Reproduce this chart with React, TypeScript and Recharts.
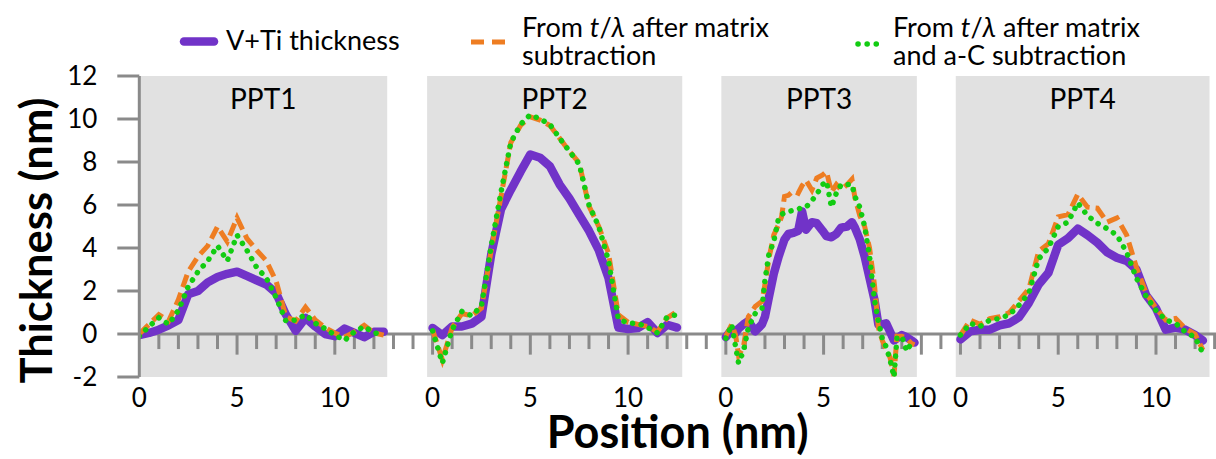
import React from 'react';
import { LineChart, Line, XAxis, YAxis, ReferenceArea, ReferenceLine, Legend, Label } from 'recharts';

const FONT = 'Lato, "Open Sans", sans-serif';
const PURPLE = '#7133c8';
const ORANGE = '#ee7d22';
const GREEN = '#12cc12';
const AXIS = '#8a8a8a';
const PANEL_BG = '#e1e1e1';

// Panels: name, where local 0 sits on the shared position axis, and the shaded extent (local nm)
const panelNames = ['PPT1', 'PPT2', 'PPT3', 'PPT4'];
const panelOffsets = [0, 15, 30, 42];
const panelStarts = [0, -0.28, -0.23, -0.24];
const panelEnds = [12.68, 12.77, 9.77, 12.74];
const localTickLabels = [0, 5, 10];
const yTicks = [-2, 0, 2, 4, 6, 8, 10, 12];

const seriesNames = ['V+Ti thickness', 'From t/λ after matrix subtraction', 'From t/λ after matrix and a-C subtraction'];

// PPT1
const p1Pos = [0, 0.5, 1, 1.5, 2, 2.5, 3, 3.5, 4, 4.5, 5, 5.5, 6, 6.5, 7, 7.5, 8, 8.5, 9, 9.5, 10, 10.5, 11, 11.5, 12, 12.5];
const p1Thickness = [-0.05, 0.05, 0.2, 0.4, 0.65, 1.85, 2.0, 2.4, 2.65, 2.8, 2.9, 2.7, 2.5, 2.3, 1.9, 0.9, 0.15, 0.75, 0.35, 0.0, -0.1, 0.25, 0.05, -0.15, 0.1, 0.1];
const p1Matrix = [0, 0.45, 0.9, 0.6, 1.6, 2.9, 3.6, 4.1, 5.0, 4.3, 5.4, 4.45, 3.9, 3.4, 2.45, 0.8, 0.6, 1.25, 0.65, 0.3, 0.05, -0.15, 0.1, 0.4, 0.05, -0.05];
const p1MatrixC = [-0.1, 0.35, 0.75, 0.45, 1.1, 2.2, 2.9, 3.4, 4.1, 3.4, 4.6, 3.9, 3.1, 2.6, 1.7, 0.6, 0.65, 0.9, 0.5, 0.25, -0.05, -0.3, 0.1, 0.35, 0.05, 0.0];

// PPT2
const p2Pos = [0, 0.5, 1, 1.5, 2, 2.5, 3, 3.5, 4, 4.5, 5, 5.5, 6, 6.5, 7, 7.5, 8, 8.5, 9, 9.5, 10, 10.5, 11, 11.5, 12, 12.5];
const p2Thickness = [0.28, -0.05, 0.35, 0.35, 0.48, 0.8, 3.7, 5.8, 6.7, 7.55, 8.35, 8.2, 7.8, 6.95, 6.3, 5.55, 4.8, 3.9, 2.6, 0.3, 0.23, 0.28, 0.55, 0.05, 0.43, 0.3];
const p2Matrix = [0.2, -1.2, 0.3, 0.95, 0.85, 1.2, 3.9, 6.4, 8.9, 9.7, 10.1, 9.95, 9.7, 9.1, 8.5, 7.95, 5.95, 5.0, 3.75, 0.9, 0.55, 0.45, 0.35, 0.1, 0.75, 1.05];
const p2MatrixC = [0.15, -1.35, 0.2, 1.05, 0.85, 1.3, 4.1, 6.6, 8.9, 9.75, 10.2, 10.0, 9.75, 9.1, 8.5, 7.9, 6.0, 5.0, 3.4, 0.7, 0.5, 0.5, 0.3, 0.05, 0.8, 0.9];

// PPT3
const p3Pos = [0, 0.3, 0.5, 0.65, 0.9, 1.15, 1.5, 1.85, 2.0, 2.2, 2.45, 2.7, 2.85, 3.0, 3.2, 3.45, 3.7, 3.9, 4.1, 4.4, 4.65, 4.95, 5.15, 5.4, 5.65, 5.9, 6.2, 6.45, 6.6, 6.85, 7.1, 7.35, 7.6, 7.8, 8.0, 8.2, 8.4, 8.6, 8.75, 9.0, 9.25, 9.5, 9.65];
const p3Thickness = [-0.15, 0.2, 0.05, 0.25, 0.45, 0.6, 0.12, 0.45, 0.8, 1.7, 2.8, 3.6, 4.0, 4.4, 4.65, 4.7, 4.8, 5.7, 4.85, 5.2, 5.15, 4.8, 4.55, 4.5, 4.65, 4.95, 5.0, 5.2, 4.95, 4.4, 3.6, 2.6, 1.6, 0.45, 0.45, 0.5, 0.1, -0.3, -0.2, -0.05, -0.15, -0.3, -0.4];
const p3Matrix = [-0.1, 0.45, -0.05, -1.0, -0.6, 0.8, 1.28, 1.52, 2.3, 3.5, 4.6, 5.1, 5.45, 6.4, 6.45, 6.65, 6.55, 6.9, 7.15, 6.7, 7.25, 7.4, 7.55, 6.6, 6.95, 6.7, 6.95, 7.2, 6.35, 5.5, 5.0, 4.0, 2.3, 0.3, -0.3, -0.7, -1.1, -1.95, -0.1, -0.1, -0.2, -0.45, -0.5];
const p3MatrixC = [-0.2, 0.45, -0.6, -1.35, -0.8, 0.3, 0.95, 1.2, 2.5, 3.7, 4.3, 5.4, 5.55, 5.65, 5.7, 5.75, 5.8, 5.9, 5.9, 6.2, 6.5, 6.95, 7.1, 5.9, 6.55, 6.95, 6.95, 6.95, 6.4, 5.9, 5.0, 3.6, 1.6, 0.6, -0.2, -0.6, -1.2, -2.0, -0.2, -0.1, -0.8, -0.4, -0.5];

// PPT4
const p4Pos = [0, 0.5, 1, 1.5, 2, 2.5, 3, 3.5, 4, 4.5, 5, 5.5, 6, 6.5, 7, 7.5, 8, 8.5, 9, 9.5, 10, 10.5, 11, 11.5, 12, 12.4];
const p4Thickness = [-0.25, 0.12, 0.2, 0.2, 0.4, 0.5, 0.78, 1.45, 2.3, 2.85, 4.15, 4.45, 4.9, 4.6, 4.25, 3.8, 3.55, 3.4, 3.0, 1.8, 1.2, 0.2, 0.3, 0.2, -0.05, -0.3];
const p4Matrix = [-0.05, 0.65, 0.45, 0.72, 0.8, 1.0, 1.55, 2.1, 3.85, 4.2, 5.45, 5.55, 6.5, 5.9, 5.85, 5.2, 5.4, 4.6, 3.1, 1.9, 1.2, 0.65, 0.72, 0.25, 0.0, -0.75];
const p4MatrixC = [-0.05, 0.5, 0.35, 0.65, 0.72, 0.9, 1.35, 1.9, 3.5, 4.0, 5.0, 5.2, 6.1, 5.5, 5.15, 4.9, 4.6, 3.8, 2.6, 1.75, 1.1, 0.65, 0.5, 0.1, -0.15, -0.9];

const panels = [
  { pos: p1Pos, thick: p1Thickness, matrix: p1Matrix, matrixC: p1MatrixC },
  { pos: p2Pos, thick: p2Thickness, matrix: p2Matrix, matrixC: p2MatrixC },
  { pos: p3Pos, thick: p3Thickness, matrix: p3Matrix, matrixC: p3MatrixC },
  { pos: p4Pos, thick: p4Thickness, matrix: p4Matrix, matrixC: p4MatrixC },
];

const panelData = panels.map((p, i) =>
  p.pos.map((x, j) => ({ gx: x + panelOffsets[i], thick: p.thick[j], matrix: p.matrix[j], matrixC: p.matrixC[j] }))
);

const AXIS_END = 55;
const X_DOMAIN_END = 55.07;
const xTicks = panelOffsets.flatMap((o) => localTickLabels.map((t) => o + t));
const majorSet = new Set(xTicks);
const axisMarks = Array.from({ length: AXIS_END }, (_, i) => i + 1);

const textStyle = { fontFamily: FONT, fill: '#000' };

const YTitle = (props: any) => {
  const vb = props.viewBox || { x: 59, y: 76, width: 80, height: 301 };
  const cx = vb.x - 22;
  const cy = vb.y + vb.height / 2 + 14;
  return (
    <text x={cx} y={cy + 15} transform={`rotate(-90, ${cx}, ${cy})`} textAnchor="middle"
      style={{ ...textStyle, fontSize: 43.5, fontWeight: 700 }}>Thickness (nm)</text>
  );
};

const XTitle = (props: any) => {
  const vb = props.viewBox || { x: 139, y: 377, width: 1077, height: 30 };
  return (
    <text x={vb.x + vb.width / 2} y={vb.y + 71} textAnchor="middle"
      style={{ ...textStyle, fontSize: 45, fontWeight: 700 }}>Position (nm)</text>
  );
};

const LegendContent = () => {
  const fs = 27;
  const lam = (rest: string) => (
    <>
      {'From '}<tspan fontStyle="italic">t</tspan>/<tspan fontStyle="italic">λ</tspan>{rest}
    </>
  );
  return (
    <svg width={1216} height={70} style={{ display: 'block' }}>
      <line x1={184} y1={41.5} x2={214} y2={41.5} stroke={PURPLE} strokeWidth={8.5} strokeLinecap="round" />
      <text x={226} y={50} style={{ ...textStyle, fontSize: fs }}>{seriesNames[0]}</text>
      <line x1={471} y1={42} x2={507} y2={42} stroke={ORANGE} strokeWidth={5} strokeDasharray="13 8" />
      <text x={522} y={37} style={{ ...textStyle, fontSize: fs }}>{lam(' after matrix')}</text>
      <text x={522} y={65} style={{ ...textStyle, fontSize: fs }}>subtraction</text>
      <line x1={858} y1={44} x2={880} y2={44} stroke={GREEN} strokeWidth={5.5} strokeDasharray="0.1 9" strokeLinecap="round" />
      <text x={893} y={37} style={{ ...textStyle, fontSize: fs }}>{lam(' after matrix')}</text>
      <text x={893} y={65} style={{ ...textStyle, fontSize: fs }}>and a-C subtraction</text>
    </svg>
  );
};

export default function App() {
  return (
    <div style={{ position: 'absolute', left: 0, top: 0, width: 1216, height: 459, background: '#fff' }}>
      <LineChart width={1216} height={459} margin={{ top: 76, right: 0, bottom: 52, left: 59.3 }}>
        <XAxis
          type="number"
          dataKey="gx"
          domain={[0, X_DOMAIN_END]}
          allowDataOverflow
          ticks={xTicks}
          interval={0}
          tickFormatter={(v: number, i: number) => String(localTickLabels[i % localTickLabels.length])}
          axisLine={false}
          tickLine={false}
          tickSize={0}
          tickMargin={12}
          height={30}
          tick={{ ...textStyle, fontSize: 26 }}
        >
          <Label content={XTitle} />
        </XAxis>
        <YAxis
          type="number"
          domain={[-2, 12]}
          ticks={yTicks}
          interval={0}
          width={80}
          tickSize={22}
          tickMargin={20}
          axisLine={{ stroke: AXIS, strokeWidth: 3 }}
          tickLine={{ stroke: AXIS, strokeWidth: 3 }}
          tick={{ ...textStyle, fontSize: 26 }}
        >
          <Label content={YTitle} />
        </YAxis>
        {panelNames.map((name, i) => (
          <ReferenceArea
            key={name}
            x1={panelOffsets[i] + panelStarts[i]}
            x2={panelOffsets[i] + panelEnds[i]}
            y1={-2}
            y2={12}
            fill={PANEL_BG}
            fillOpacity={1}
            stroke="none"
            label={{ value: name, position: 'insideTop', offset: 13, fontSize: 28, fontFamily: FONT, fill: '#000' }}
          />
        ))}
        <ReferenceLine y={0} stroke={AXIS} strokeWidth={3} />
        {axisMarks.map((g) => (
          <ReferenceLine
            key={`t${g}`}
            segment={[{ x: g, y: 0 }, { x: g, y: majorSet.has(g) ? -0.96 : -0.7 }]}
            stroke={AXIS}
            strokeWidth={3}
          />
        ))}
        {panelData.map((d, i) => (
          <Line key={`th${i}`} data={d} dataKey="thick" name={seriesNames[0]} type="linear" stroke={PURPLE}
            strokeWidth={8.5} strokeLinejoin="round" strokeLinecap="round" dot={false} activeDot={false} isAnimationActive={false} />
        ))}
        {panelData.map((d, i) => (
          <Line key={`m${i}`} data={d} dataKey="matrix" name={seriesNames[1]} type="linear" stroke={ORANGE}
            strokeWidth={5} strokeDasharray="13 6" dot={false} activeDot={false} isAnimationActive={false} />
        ))}
        {panelData.map((d, i) => (
          <Line key={`mc${i}`} data={d} dataKey="matrixC" name={seriesNames[2]} type="linear" stroke={GREEN}
            strokeWidth={5.5} strokeDasharray="0.1 8.8" strokeLinecap="round" dot={false} activeDot={false} isAnimationActive={false} />
        ))}
        <Legend
          content={LegendContent}
          layout="horizontal"
          verticalAlign="middle"
          align="center"
          wrapperStyle={{ left: 0, top: 0, width: 1216, height: 70 }}
        />
      </LineChart>
    </div>
  );
}
